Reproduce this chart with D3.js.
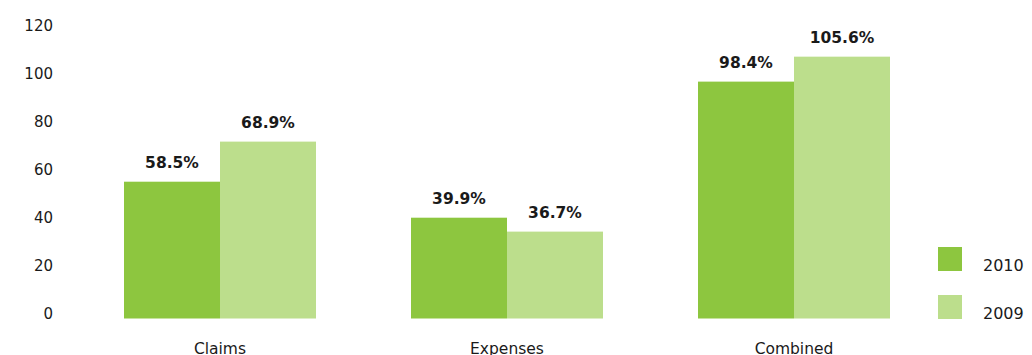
<!DOCTYPE html>
<html>
<head>
<meta charset="utf-8">
<script src="https://cdn.jsdelivr.net/npm/d3@7"></script>
<style>
  body { margin: 0; background: #fff; }
  text { font-family: "DejaVu Sans", sans-serif; fill: #1a1a1a; }
  .pct { font-weight: bold; font-size: 15.5px; }
</style>
</head>
<body>
<div id="chart"></div>
<script>
// chart values
const categories = ['Claims', 'Expenses', 'Combined'];
const years = ['2010', '2009'];
const values2010 = [57.0, 42.0, 98.7];
const values2009 = [73.7, 36.2, 109.1];
const labels2010 = ['58.5%', '39.9%', '98.4%'];
const labels2009 = ['68.9%', '36.7%', '105.6%'];
const yTicks = [0, 20, 40, 60, 80, 100, 120];

const colors = { '2010': '#8dc63f', '2009': '#bcde8c' };

const width = 1032, height = 355;

const svg = d3.select('#chart').append('svg')
    .attr('width', width)
    .attr('height', height);

const y = d3.scaleLinear()
    .domain([0, 120])
    .range([318.5, 30.5]);

const x0 = d3.scaleBand()
    .domain(categories)
    .range([76.5, 937.5])
    .paddingInner(0.331)
    .paddingOuter(0.1655);

const x1 = d3.scaleBand()
    .domain(years)
    .range([0, x0.bandwidth()]);

// Build rows for the bars
const rows = [];
categories.forEach((c, i) => {
    rows.push({ cat: c, year: '2010', value: values2010[i], label: labels2010[i] });
    rows.push({ cat: c, year: '2009', value: values2009[i], label: labels2009[i] });
});

// Y axis (labels only, no line)
const yAxis = svg.append('g')
    .attr('transform', 'translate(53,0)')
    .call(d3.axisLeft(y).tickValues(yTicks).tickSize(0).tickPadding(0));
yAxis.select('.domain').remove();
yAxis.selectAll('text')
    .attr('dy', '0em')
    .style('font-size', '15px')
    .style('font-family', '"DejaVu Sans", sans-serif')
    .attr('fill', '#1a1a1a');

// Bars
svg.append('g').selectAll('rect')
    .data(rows)
    .join('rect')
    .attr('x', d => x0(d.cat) + x1(d.year))
    .attr('y', d => y(d.value))
    .attr('width', x1.bandwidth())
    .attr('height', d => y(0) - y(d.value))
    .attr('fill', d => colors[d.year]);

// Value labels
svg.append('g').selectAll('text')
    .data(rows)
    .join('text')
    .attr('class', 'pct')
    .attr('text-anchor', 'middle')
    .attr('x', d => x0(d.cat) + x1(d.year) + x1.bandwidth() / 2)
    .attr('y', d => y(d.value) - 14)
    .text(d => d.label);

// Category labels (cut at the bottom edge, as in the original)
svg.append('g').selectAll('text')
    .data(categories)
    .join('text')
    .attr('text-anchor', 'middle')
    .attr('x', d => x0(d) + x0.bandwidth() / 2)
    .attr('y', 354)
    .style('font-size', '15.5px')
    .text(d => d);

// Legend
const legend = svg.append('g').attr('transform', 'translate(938,247)');
const item = legend.selectAll('g')
    .data(years)
    .join('g')
    .attr('transform', (d, i) => `translate(0,${i * 48})`);
item.append('rect')
    .attr('width', 24)
    .attr('height', 24)
    .attr('fill', d => colors[d]);
item.append('text')
    .attr('x', 45)
    .attr('y', 24)
    .style('font-size', '16px')
    .text(d => d);
</script>
</body>
</html>
